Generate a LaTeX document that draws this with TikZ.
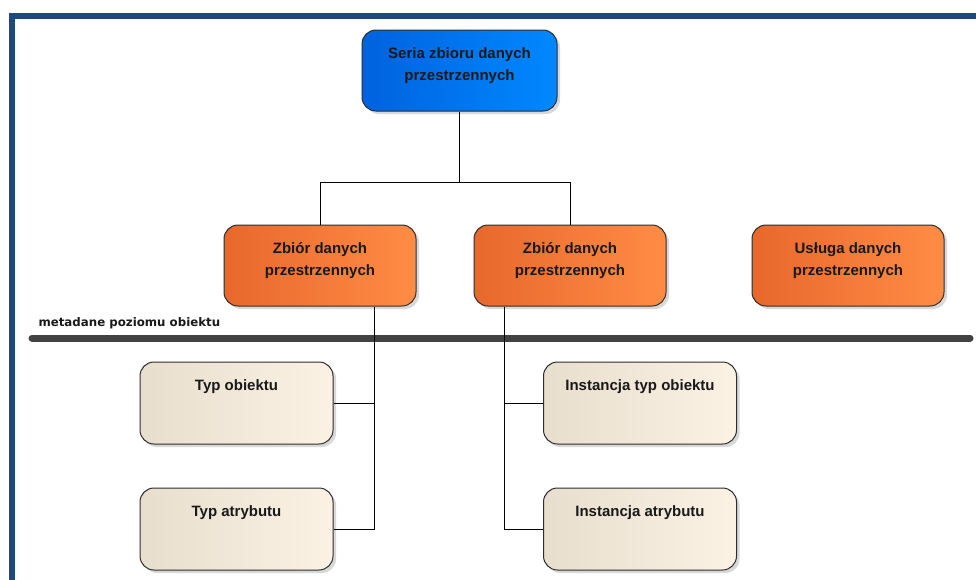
\documentclass[tikz,border=0pt]{standalone}
\usepackage{fontspec}
\setmainfont{Liberation Sans}
\newfontfamily\barfont{DejaVu Sans}
\usetikzlibrary{positioning,shadows,calc}

\definecolor{framecol}{RGB}{31,73,125}
\definecolor{blueL}{RGB}{0,98,222}
\definecolor{blueR}{RGB}{0,136,255}
\definecolor{orangeL}{RGB}{232,104,44}
\definecolor{orangeR}{RGB}{255,140,68}
\definecolor{beigeL}{RGB}{232,222,206}
\definecolor{beigeR}{RGB}{252,242,228}
\definecolor{bordercol}{RGB}{45,45,45}
\definecolor{barcol}{RGB}{66,66,66}

\tikzset{
  box/.style={draw=bordercol,line width=1pt,rounded corners=14pt,align=center,
    font=\fontsize{15}{22}\selectfont\bfseries,text=black!90,
    drop shadow={shadow xshift=3pt,shadow yshift=-3pt,opacity=0.3,fill=gray}},
  seriabox/.style={box,left color=blueL,right color=blueR,minimum width=195pt,minimum height=81pt,text depth=13pt},
  zbiorbox/.style={box,left color=orangeL,right color=orangeR,minimum width=192pt,minimum height=81pt,text depth=13pt},
  leafbox/.style={box,left color=beigeL,right color=beigeR,minimum width=193pt,
    text height=14pt,text depth=40pt,inner ysep=14pt},
  link/.style={draw=black,line width=1pt}
}

\begin{document}
\begin{tikzpicture}[x=1pt,y=-1pt]
                \useasboundingbox (0,0) rectangle (976,579);
                \fill[white] (0,0) rectangle (976,579);
                \draw[framecol,line width=6pt] (11.5,600) -- (11.5,16) -- (1000,16);

                \node[seriabox] (seria) at (459.5,70.5) {Seria zbioru danych\\przestrzennych};
                \node[zbiorbox,below=113pt of seria.south,anchor=north,xshift=-139.5pt] (zbior1) {Zbiór danych\\przestrzennych};
                \node[zbiorbox,right=57pt of zbior1] (zbior2) {Zbiór danych\\przestrzennych};
                \node[zbiorbox,right=85pt of zbior2] (usluga) {Usługa danych\\przestrzennych};

                % poziom obiektu
                \node[anchor=base west,font=\barfont\fontsize{11.8}{13}\selectfont\bfseries,text=black!90] (meta) at (35,326) {metadane poziomu obiektu};
                \draw[barcol,line width=7pt,line cap=round] (32,338) -- (970,338);

                \node[leafbox] (typobj) at (236.5,403) {Typ obiektu};
                \node[leafbox,below=43pt of typobj] (typatr) {Typ atrybutu};
                \node[leafbox] (insttyp) at (640,403) {Instancja typ obiektu};
                \node[leafbox,below=43pt of insttyp] (instatr) {Instancja atrybutu};

                \draw[link] (seria.south) -- ++(0,71) coordinate (split) -| (zbior1.north);
                \draw[link] (split) -| (zbior2.north);
                \draw[link] (zbior1.south) ++(54,0) coordinate (treeL) |- (typatr.east);
                \draw[link] (typobj.east) -| (treeL);
                \draw[link] (zbior2.south) ++(-65.5,0) coordinate (treeR) |- (instatr.west);
                \draw[link] (insttyp.west) -| (treeR);

            \end{tikzpicture}
\end{document}
